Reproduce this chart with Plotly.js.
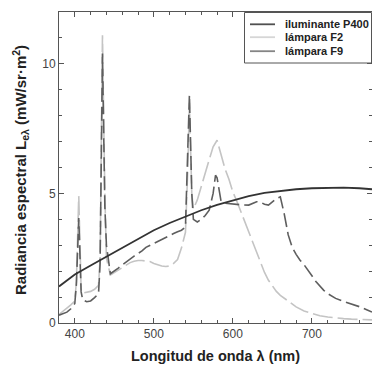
<!DOCTYPE html>
<html><head><meta charset="utf-8">
<script src="https://cdn.plot.ly/plotly-3.0.1.min.js"></script>
<style>html,body{margin:0;padding:0;background:#fff}#c{width:372px;height:372px}</style>
</head><body><div id="c"></div>
<script>
// P400 illuminant
const p400X = [380,400,420,440,460,480,500,520,540,560,580,600,620,640,660,680,700,720,740,760,776];
const p400Y = [1.41,1.87,2.22,2.56,2.9,3.24,3.58,3.86,4.12,4.35,4.56,4.73,4.9,5.02,5.1,5.16,5.2,5.22,5.22,5.2,5.16];
// F2 lamp
const f2X = [380,385,390,395,400,402,405,408,410,415,420,425,430,432,435,438,440,445,450,455,460,465,470,475,480,485,490,495,500,505,510,515,520,525,530,535,540,543,545,548,550,555,560,565,570,575,580,585,590,595,600,605,610,615,620,625,630,635,640,645,650,655,660,665,670,680,690,700,710,720,730,740,750,760,776];
const f2Y = [0.33,0.45,0.6,0.7,0.85,1.6,4.9,1.3,1.15,1.18,1.22,1.3,1.45,2.5,11.1,5.0,2.5,1.85,1.95,2.05,2.15,2.25,2.33,2.38,2.41,2.41,2.4,2.37,2.3,2.25,2.2,2.18,2.2,2.3,2.45,2.9,3.5,6.0,8.5,5.0,4.4,4.75,5.3,5.8,6.3,6.8,7.05,6.5,5.95,5.55,5.05,4.7,4.3,3.95,3.55,3.12,2.7,2.3,1.95,1.65,1.42,1.22,1.07,0.95,0.83,0.62,0.46,0.36,0.28,0.23,0.19,0.17,0.15,0.13,0.12];
// F9 lamp
const f9X = [380,385,390,395,400,402,405,408,410,415,420,425,430,432,435,438,440,445,450,455,460,465,470,475,480,485,490,495,500,505,510,515,520,525,530,535,540,543,545,548,550,555,560,565,570,575,578,580,585,590,600,610,620,625,630,635,640,645,650,655,660,665,670,675,680,685,690,695,700,705,710,715,720,730,740,750,760,770,776];
const f9Y = [0.3,0.35,0.42,0.55,0.75,1.5,4.05,1.2,0.9,0.82,0.85,0.98,1.13,2.3,10.4,4.5,3.0,1.9,2.0,2.12,2.24,2.36,2.47,2.58,2.68,2.78,2.92,3.0,3.08,3.15,3.22,3.3,3.38,3.45,3.52,3.58,3.7,6.5,8.8,5.0,4.0,3.9,4.0,4.15,4.35,5.0,5.7,5.6,4.7,4.62,4.58,4.56,4.55,4.6,4.68,4.66,4.58,4.55,4.68,4.8,4.87,4.2,3.4,2.92,2.65,2.42,2.25,2.05,1.82,1.6,1.42,1.26,1.13,0.95,0.83,0.74,0.63,0.5,0.42];

const names = ['iluminante P400','lámpara F2','lámpara F9'];
const colors = ['#333333','#c4c4c4','#5e5e5e'];
const legendColors = ['#505050','#d6d6d6','#858585'];
const dashes = ['solid','20px,5px','14px,5px'];
const widths = [1.8,1.6,1.6];

const traces = [
  {x:p400X,y:p400Y},{x:f2X,y:f2Y},{x:f9X,y:f9Y}
].map((d,i)=>({x:d.x,y:d.y,type:'scatter',mode:'lines',name:names[i],
  line:{color:colors[i],dash:dashes[i],width:widths[i]},showlegend:false}));
// draw order: F2 first, F9, then P400 on top
const data = [traces[1],traces[2],traces[0]];

// layout geometry (pixels)
const W=372,H=372,L=59,R=0,T=12,B=49;
const pw=W-L-R, ph=H-T-B;
const px2x = p => (p-L)/pw;
const py2y = p => (H-B-p)/ph;

const shapes=[{type:'rect',xref:'paper',yref:'paper',x0:px2x(244.5),x1:px2x(371.5),y0:py2y(63),y1:py2y(12.5),
  line:{color:'#555',width:1},fillcolor:'#fff'}];
const annotations=[];
const rows=[24.3,37.2,51.2];
rows.forEach((ry,i)=>{
  shapes.push({type:'line',xref:'paper',yref:'paper',x0:px2x(250),x1:px2x(275),y0:py2y(ry),y1:py2y(ry),
    line:{color:legendColors[i],width:1.8}});
  annotations.push({xref:'paper',yref:'paper',x:px2x(282.5),y:py2y(ry),xanchor:'left',yanchor:'middle',
    text:'<b>'+names[i]+'</b>',showarrow:false,font:{family:'Liberation Sans, Arial',size:11,color:'#222'}});
});
annotations.push({xref:'paper',yref:'paper',x:px2x(20),y:py2y(170),xanchor:'center',yanchor:'middle',textangle:-90,
  text:'<b>Radiancia espectral L<sub>eλ</sub> (mW/sr·m<sup>2</sup>)</b>',showarrow:false,
  font:{family:'Liberation Sans, Arial',size:15,color:'#222'}});

const layout={
  width:W,height:H,margin:{l:L,r:R,t:T,b:B,pad:0},
  paper_bgcolor:'#fff',plot_bgcolor:'#fff',
  font:{family:'Liberation Sans, Arial',size:12,color:'#444'},
  xaxis:{range:[380,776],tickvals:[400,500,600,700],ticks:'inside',ticklen:5,tickcolor:'#555',
    showline:true,linecolor:'#555',linewidth:1,mirror:'ticks',showgrid:false,zeroline:false,
    minor:{dtick:20,tick0:380,ticks:'inside',ticklen:3,tickcolor:'#555',showgrid:false},
    tickfont:{size:12,color:'#444'},
    title:{text:'<b>Longitud de onda λ (nm)</b>',font:{size:14.5,color:'#222'},standoff:10}},
  yaxis:{range:[0,12],tickvals:[0,5,10],ticks:'inside',ticklen:5,tickcolor:'#555',
    showline:true,linecolor:'#555',linewidth:1,mirror:'ticks',showgrid:false,zeroline:false,
    minor:{dtick:1,ticks:'inside',ticklen:3,tickcolor:'#555',showgrid:false},
    tickfont:{size:12,color:'#444'}},
  shapes:shapes,annotations:annotations,showlegend:false
};
Plotly.newPlot('c',data,layout,{staticPlot:true,displayModeBar:false});
</script></body></html>
